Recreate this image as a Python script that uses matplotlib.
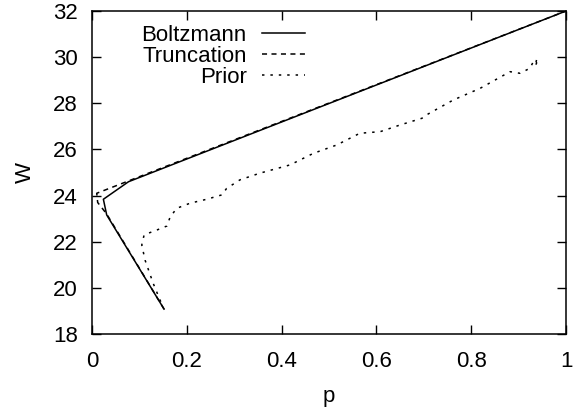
import matplotlib
matplotlib.use('Agg')
import matplotlib.pyplot as plt
import numpy as np

plt.rcParams['font.family'] = ['Liberation Sans', 'DejaVu Sans']

# data
boltz_p = [0.152, 0.031, 0.024, 0.077, 1.0]
boltz_w = [19.08, 23.16, 23.84, 24.60, 32.0]

trunc_p = [0.152, 0.031, 0.012, 0.010, 1.0]
trunc_w = [19.08, 23.20, 23.70, 24.10, 32.0]

prior_p = [0.145, 0.129, 0.112, 0.105, 0.110, 0.136, 0.158, 0.165, 0.179, 0.207,
           0.242, 0.274, 0.284, 0.312, 0.354, 0.418, 0.467, 0.516, 0.565, 0.608,
           0.650, 0.696, 0.706, 0.762, 0.819, 0.882, 0.903, 0.924, 0.931, 0.938,
           0.935, 0.940, 0.937]
prior_w = [19.40, 20.20, 21.20, 21.86, 22.30, 22.50, 22.68, 23.08, 23.45, 23.67,
           23.84, 24.03, 24.31, 24.68, 24.97, 25.33, 25.83, 26.19, 26.70, 26.77,
           27.06, 27.35, 27.50, 28.14, 28.65, 29.37, 29.30, 29.52, 29.80, 29.90,
           29.60, 29.85, 29.70]

xticks = [0, 0.2, 0.4, 0.6, 0.8, 1]
xticklabels = ['0', '0.2', '0.4', '0.6', '0.8', '1']
yticks = [18, 20, 22, 24, 26, 28, 30, 32]

fs = 16

fig = plt.figure(figsize=(5.79, 4.12), dpi=100)
ax = fig.add_axes([92/579, 1 - 334/412, 474/579, 323/412])

ax.plot(boltz_p, boltz_w, color='black', lw=1.1, label='Boltzmann')
ax.plot(trunc_p, trunc_w, color='black', lw=1.1, dashes=(3.3, 2.9), label='Truncation')
ax.plot(prior_p, prior_w, color='black', lw=1.1, dashes=(1.6, 3.9), label='Prior')

ax.set_xlim(0, 1)
ax.set_ylim(18, 32)
ax.set_xticks(xticks)
ax.set_xticklabels(xticklabels)
ax.set_yticks(yticks)
ax.tick_params(direction='in', length=6.5, width=1, top=True, right=True,
               labelsize=fs)
ax.tick_params(axis='x', pad=12)
ax.tick_params(axis='y', pad=10)
for s in ax.spines.values():
    s.set_linewidth(1.1)

ax.set_xlabel('p', fontsize=fs, va='center')
ax.set_ylabel('W', fontsize=fs, va='center')
ax.xaxis.set_label_coords(0.5, -0.195)
ax.yaxis.set_label_coords(-0.14, 0.5)

ax.legend(loc='upper right', bbox_to_anchor=(0.449, 0.958), frameon=False,
          markerfirst=False, fontsize=fs, handlelength=1.94, handletextpad=0.68,
          labelspacing=0.0, borderpad=0, borderaxespad=0)

fig.savefig('out.png', dpi=100)
